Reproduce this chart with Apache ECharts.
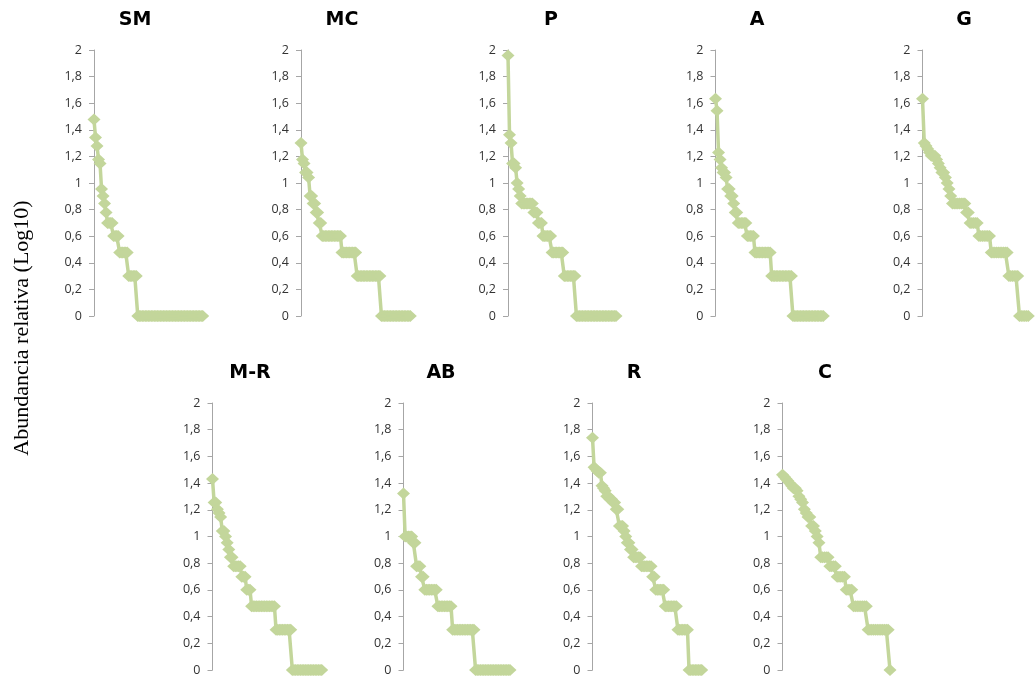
<!DOCTYPE html>
<html>
<head>
<meta charset="utf-8">
<script src="https://cdn.jsdelivr.net/npm/echarts@6/dist/echarts.min.js"></script>
<style>
html,body{margin:0;padding:0;background:#fff;}
#chart{width:1035px;height:679px;}
</style>
</head>
<body>
<div id="chart"></div>
<script>
// Log10 relative abundance per rank
const SM = [1.477, 1.342, 1.279, 1.176, 1.146, 0.954, 0.903, 0.845, 0.778,
  0.699, 0.699, 0.699, 0.699,
  0.602, 0.602, 0.602, 0.602,
  0.477, 0.477, 0.477, 0.477, 0.477, 0.477,
  0.301, 0.301, 0.301, 0.301, 0.301, 0.301,
  0, 0, 0, 0, 0, 0, 0, 0, 0, 0, 0, 0, 0, 0, 0, 0, 0, 0, 0, 0, 0, 0,
  0, 0, 0, 0, 0, 0, 0, 0, 0, 0, 0, 0, 0, 0, 0, 0, 0, 0, 0, 0, 0, 0];
const MC = [1.301, 1.176, 1.146, 1.079, 1.079, 1.041, 0.903, 0.903, 0.845, 0.845, 0.778, 0.778, 0.699, 0.699,
  0.602, 0.602, 0.602, 0.602, 0.602, 0.602, 0.602, 0.602, 0.602, 0.602, 0.602, 0.602, 0.602,
  0.477, 0.477, 0.477, 0.477, 0.477, 0.477, 0.477, 0.477, 0.477, 0.477,
  0.301, 0.301, 0.301, 0.301, 0.301, 0.301, 0.301, 0.301, 0.301, 0.301, 0.301, 0.301, 0.301, 0.301, 0.301, 0.301,
  0, 0, 0, 0, 0, 0, 0, 0, 0, 0, 0, 0, 0, 0, 0, 0, 0, 0, 0, 0];
const P = [1.959, 1.362, 1.301, 1.146, 1.146, 1.114, 1.0, 0.954, 0.903,
  0.845, 0.845, 0.845, 0.845, 0.845, 0.845, 0.845, 0.845,
  0.778, 0.778, 0.778,
  0.699, 0.699, 0.699,
  0.602, 0.602, 0.602, 0.602, 0.602, 0.602,
  0.477, 0.477, 0.477, 0.477, 0.477, 0.477, 0.477, 0.477,
  0.301, 0.301, 0.301, 0.301, 0.301, 0.301, 0.301, 0.301,
  0, 0, 0, 0, 0, 0, 0, 0, 0, 0, 0, 0, 0, 0, 0, 0, 0, 0, 0, 0, 0, 0, 0, 0, 0, 0, 0];
const A = [1.633, 1.544, 1.230, 1.176, 1.114, 1.079, 1.079, 1.041, 0.954, 0.954, 0.903, 0.903, 0.845, 0.778, 0.778,
  0.699, 0.699, 0.699, 0.699, 0.699, 0.699,
  0.602, 0.602, 0.602, 0.602, 0.602,
  0.477, 0.477, 0.477, 0.477, 0.477, 0.477, 0.477, 0.477, 0.477, 0.477, 0.477,
  0.301, 0.301, 0.301, 0.301, 0.301, 0.301, 0.301, 0.301, 0.301, 0.301, 0.301, 0.301, 0.301, 0.301,
  0, 0, 0, 0, 0, 0, 0, 0, 0, 0, 0, 0, 0, 0, 0, 0, 0, 0, 0, 0, 0];
const G = [1.633, 1.301, 1.279, 1.255, 1.230, 1.204, 1.204, 1.204, 1.176, 1.146, 1.114, 1.079, 1.079, 1.041, 1.0, 0.954, 0.903,
  0.845, 0.845, 0.845, 0.845, 0.845, 0.845, 0.845, 0.845,
  0.778, 0.778,
  0.699, 0.699, 0.699, 0.699, 0.699,
  0.602, 0.602, 0.602, 0.602, 0.602, 0.602, 0.602,
  0.477, 0.477, 0.477, 0.477, 0.477, 0.477, 0.477, 0.477, 0.477, 0.477,
  0.301, 0.301, 0.301, 0.301, 0.301, 0.301,
  0, 0, 0, 0, 0, 0];
const MR = [1.431, 1.255, 1.255, 1.204, 1.176, 1.146, 1.041, 1.041, 1.0, 0.954, 0.903, 0.845, 0.845,
  0.778, 0.778, 0.778, 0.778, 0.778,
  0.699, 0.699, 0.699,
  0.602, 0.602, 0.602,
  0.477, 0.477, 0.477, 0.477, 0.477, 0.477, 0.477, 0.477, 0.477, 0.477, 0.477, 0.477, 0.477, 0.477, 0.477,
  0.301, 0.301, 0.301, 0.301, 0.301, 0.301, 0.301, 0.301, 0.301, 0.301,
  0, 0, 0, 0, 0, 0, 0, 0, 0, 0, 0, 0, 0, 0, 0, 0, 0, 0, 0];
const AB = [1.322, 1.0, 1.0, 1.0, 1.0, 1.0, 0.954, 0.954,
  0.778, 0.778, 0.778,
  0.699, 0.699,
  0.602, 0.602, 0.602, 0.602, 0.602, 0.602, 0.602, 0.602,
  0.477, 0.477, 0.477, 0.477, 0.477, 0.477, 0.477, 0.477, 0.477,
  0.301, 0.301, 0.301, 0.301, 0.301, 0.301, 0.301, 0.301, 0.301, 0.301, 0.301, 0.301, 0.301, 0.301,
  0, 0, 0, 0, 0, 0, 0, 0, 0, 0, 0, 0, 0, 0, 0, 0, 0, 0, 0, 0, 0, 0];
const R = [1.740, 1.519, 1.505, 1.491, 1.477, 1.477, 1.380, 1.362, 1.342, 1.301, 1.301, 1.279, 1.279, 1.255, 1.255,
  1.204, 1.204, 1.079, 1.079, 1.079, 1.041, 1.0, 0.954, 0.954, 0.903, 0.903,
  0.845, 0.845, 0.845, 0.845, 0.845,
  0.778, 0.778, 0.778, 0.778, 0.778, 0.778, 0.778,
  0.699, 0.699,
  0.602, 0.602, 0.602, 0.602, 0.602, 0.602,
  0.477, 0.477, 0.477, 0.477, 0.477, 0.477, 0.477, 0.477,
  0.301, 0.301, 0.301, 0.301, 0.301, 0.301, 0.301,
  0, 0, 0, 0, 0, 0, 0, 0, 0];
const C = [1.462, 1.447, 1.431, 1.415, 1.398, 1.380, 1.362, 1.362, 1.342, 1.301, 1.279, 1.255, 1.204, 1.176,
  1.146, 1.146, 1.079, 1.079, 1.041, 1.0, 0.954,
  0.845, 0.845, 0.845, 0.845, 0.845,
  0.778, 0.778, 0.778, 0.778,
  0.699, 0.699, 0.699, 0.699, 0.699,
  0.602, 0.602, 0.602, 0.602,
  0.477, 0.477, 0.477, 0.477, 0.477, 0.477, 0.477, 0.477,
  0.301, 0.301, 0.301, 0.301, 0.301, 0.301, 0.301, 0.301, 0.301, 0.301, 0.301, 0.301,
  0];

const panelNames = ['SM', 'MC', 'P', 'A', 'G', 'M-R', 'AB', 'R', 'C'];
const panelData = [SM, MC, P, A, G, MR, AB, R, C];
const yTicks = [0, 0.2, 0.4, 0.6, 0.8, 1, 1.2, 1.4, 1.6, 1.8, 2];
const yTitle = 'Abundancia relativa (Log10)';

// layout (pixels)
const layout = [
  {l: 94,    r: 202.7,  top: 50,  bottom: 316, tx: 135, ty: 20},
  {l: 301,   r: 410.3,  top: 50,  bottom: 316, tx: 342, ty: 20},
  {l: 508,   r: 616,    top: 50,  bottom: 316, tx: 551, ty: 20},
  {l: 715.5, r: 823.3,  top: 50,  bottom: 316, tx: 757, ty: 20},
  {l: 922.5, r: 1028.3, top: 50,  bottom: 316, tx: 964, ty: 20},
  {l: 212.5, r: 321.7,  top: 403, bottom: 670, tx: 250, ty: 373},
  {l: 403.5, r: 510,    top: 403, bottom: 670, tx: 441, ty: 373},
  {l: 592.5, r: 701.7,  top: 403, bottom: 670, tx: 634, ty: 373},
  {l: 782.5, r: 890,    top: 403, bottom: 670, tx: 825, ty: 373}
];

const GREEN = '#c3d69b';
const chart = echarts.init(document.getElementById('chart'), null, {renderer: 'canvas'});

const grids = [], xAxes = [], yAxes = [], series = [], graphics = [];
panelData.forEach((data, i) => {
  const L = layout[i];
  const ranks = data.map((_, k) => k + 1);
  grids.push({left: L.l, top: L.top, width: L.r - L.l, height: L.bottom - L.top, containLabel: false});
  xAxes.push({type: 'category', gridIndex: i, data: ranks, boundaryGap: false, show: false});
  yAxes.push({
    type: 'value', gridIndex: i, min: 0, max: 2, interval: 0.2,
    axisLine: {show: true, lineStyle: {color: '#a6a6a6', width: 1}},
    axisTick: {show: true, length: 5, lineStyle: {color: '#a6a6a6'}},
    splitLine: {show: false},
    axisLabel: {
      margin: 12, color: '#333333', fontSize: 12.5, fontFamily: 'Open Sans',
      formatter: v => {
        const t = yTicks.find(x => Math.abs(x - v) < 1e-6);
        const s = (t !== undefined ? t : v);
        return String(Math.round(s * 10) / 10).replace('.', ',');
      }
    }
  });
  series.push({
    type: 'line', xAxisIndex: i, yAxisIndex: i, data: data,
    symbol: 'diamond', symbolSize: [13, 12], showAllSymbol: true,
    lineStyle: {color: GREEN, width: 3.5},
    itemStyle: {color: GREEN, borderWidth: 0},
    animation: false, silent: true
  });
  graphics.push({
    type: 'text', x: L.tx, y: L.ty,
    style: {text: panelNames[i], font: 'bold 19px "DejaVu Sans"', fill: '#000', align: 'center', verticalAlign: 'middle'}
  });
});

graphics.push({
  type: 'text', x: 22, y: 328, rotation: Math.PI / 2,
  style: {text: yTitle, font: '22px "Liberation Serif"', fill: '#000', align: 'center', verticalAlign: 'middle'}
});

chart.setOption({
  animation: false,
  backgroundColor: '#ffffff',
  grid: grids,
  xAxis: xAxes,
  yAxis: yAxes,
  series: series,
  graphic: graphics
});
</script>
</body>
</html>
